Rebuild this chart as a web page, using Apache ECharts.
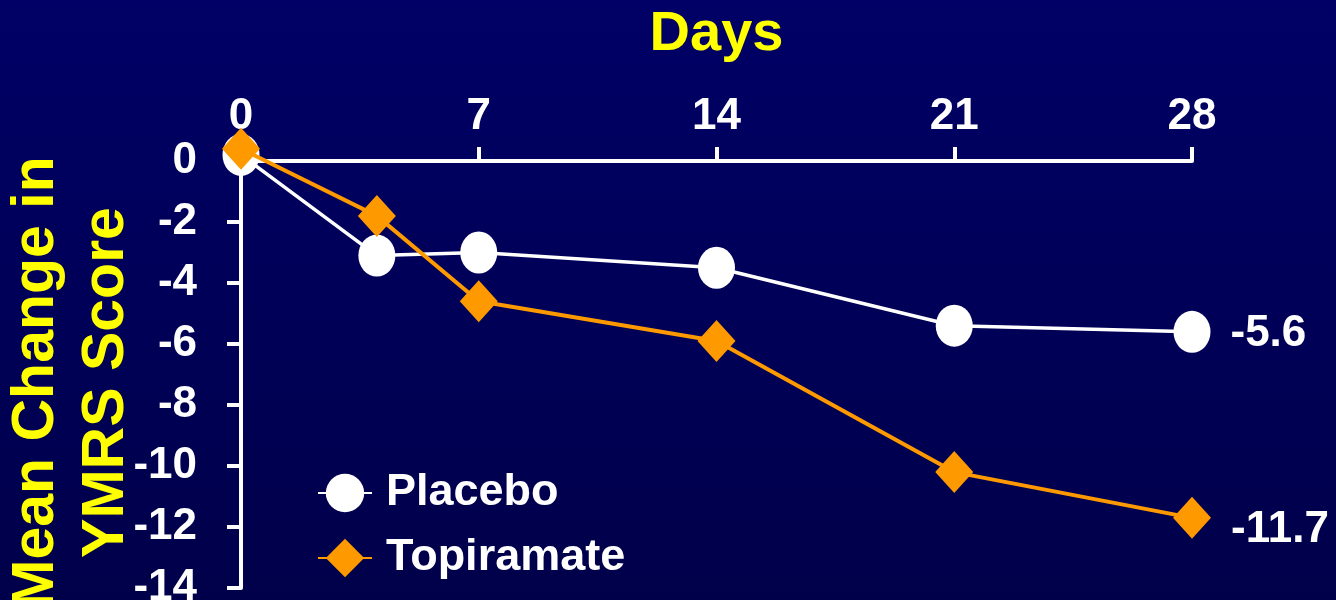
<!DOCTYPE html>
<html>
<head>
<meta charset="utf-8">
<style>
  html, body { margin: 0; padding: 0; background: #000058; }
  #chart { width: 1336px; height: 600px; }
</style>
<script src="https://cdn.jsdelivr.net/npm/echarts@6/dist/echarts.min.js"></script>
</head>
<body>
<div id="chart"></div>
<script>
// Study days at which YMRS was assessed
const days = [0, 4, 7, 14, 21, 28];
// Mean change from baseline in YMRS score
const placebo = [0.2, -3.1, -3.0, -3.5, -5.4, -5.6];
const topiramate = [0.4, -1.8, -4.6, -5.9, -10.2, -11.7];
// Axis ticks
const dayTicks = [0, 7, 14, 21, 28];
const scoreTicks = [0, -2, -4, -6, -8, -10, -12, -14];

const FONT = 'Arial, "Liberation Sans", sans-serif';
const WHITE = '#ffffff';
const ORANGE = '#ff9900';
const YELLOW = '#ffff00';

const pairs = (ys) => days.map((d, i) => [d, ys[i]]);

// final value label on the last point only
const endLabel = (offset) => ({
  show: true,
  position: 'right',
  distance: 20,
  offset: offset,
  color: WHITE,
  fontFamily: FONT,
  fontWeight: 'bold',
  fontSize: 44,
  formatter: (p) => (p.dataIndex === days.length - 1 ? String(p.value[1]) : '')
});

const chart = echarts.init(document.getElementById('chart'), null, { renderer: 'canvas' });

chart.setOption({
  animation: false,
  backgroundColor: new echarts.graphic.LinearGradient(0, 0, 0, 1, [
    { offset: 0, color: '#000066' },
    { offset: 1, color: '#00004a' }
  ]),
  grid: {
    left: 241, top: 161, right: 144, bottom: 12,
    outerBoundsMode: 'none'
  },
  legend: {
    orient: 'vertical',
    left: 317,
    top: 469,
    padding: 0,
    itemWidth: 54,
    itemHeight: 48,
    itemGap: 17,
    data: ['Placebo', 'Topiramate'],
    textStyle: {
      color: WHITE,
      fontFamily: FONT,
      fontWeight: 'bold',
      fontSize: 45,
      lineHeight: 48,
      padding: [0, 0, 0, 9]
    }
  },
  xAxis: {
    type: 'value',
    position: 'top',
    min: 0,
    max: 28,
    interval: 7,
    name: 'Days',
    nameLocation: 'middle',
    nameMoveOverlap: false,
    nameGap: 98,
    nameTextStyle: {
      color: YELLOW, fontFamily: FONT, fontWeight: 'bold', fontSize: 56, lineHeight: 56
    },
    axisLine: { show: true, onZero: false, lineStyle: { color: WHITE, width: 4 } },
    axisTick: { show: true, inside: false, length: 14, lineStyle: { color: WHITE, width: 4 } },
    splitLine: { show: false },
    axisLabel: {
      margin: 22,
      color: WHITE, fontFamily: FONT, fontWeight: 'bold', fontSize: 44, lineHeight: 44,
      formatter: (v) => (dayTicks.includes(v) ? String(v) : '')
    }
  },
  yAxis: {
    type: 'value',
    min: -14,
    max: 0,
    interval: 2,
    name: 'Mean Change in\nYMRS Score',
    nameLocation: 'middle',
    nameMoveOverlap: false,
    nameRotate: 90,
    nameGap: 99,
    nameTextStyle: {
      color: YELLOW, fontFamily: FONT, fontWeight: 'bold', fontSize: 59, lineHeight: 70,
      padding: [0, 16, 0, 0]
    },
    axisLine: { show: true, onZero: false, lineStyle: { color: WHITE, width: 4 } },
    axisTick: { show: true, inside: false, length: 14, lineStyle: { color: WHITE, width: 4 } },
    splitLine: { show: false },
    axisLabel: {
      margin: 44,
      color: WHITE, fontFamily: FONT, fontWeight: 'bold', fontSize: 44,
      formatter: (v) => (scoreTicks.includes(v) ? String(v) : '')
    }
  },
  series: [
    {
      name: 'Placebo',
      type: 'line',
      clip: false,
      data: pairs(placebo),
      symbol: 'circle',
      symbolSize: [37, 42],
      itemStyle: { color: WHITE },
      lineStyle: { color: WHITE, width: 3.5 },
      label: endLabel([0, 2]),
      z: 2
    },
    {
      name: 'Topiramate',
      type: 'line',
      clip: false,
      data: pairs(topiramate),
      symbol: 'diamond',
      symbolSize: [38, 42],
      itemStyle: { color: ORANGE },
      lineStyle: { color: ORANGE, width: 4 },
      label: endLabel([0, 12]),
      z: 3
    }
  ]
});
</script>
</body>
</html>
